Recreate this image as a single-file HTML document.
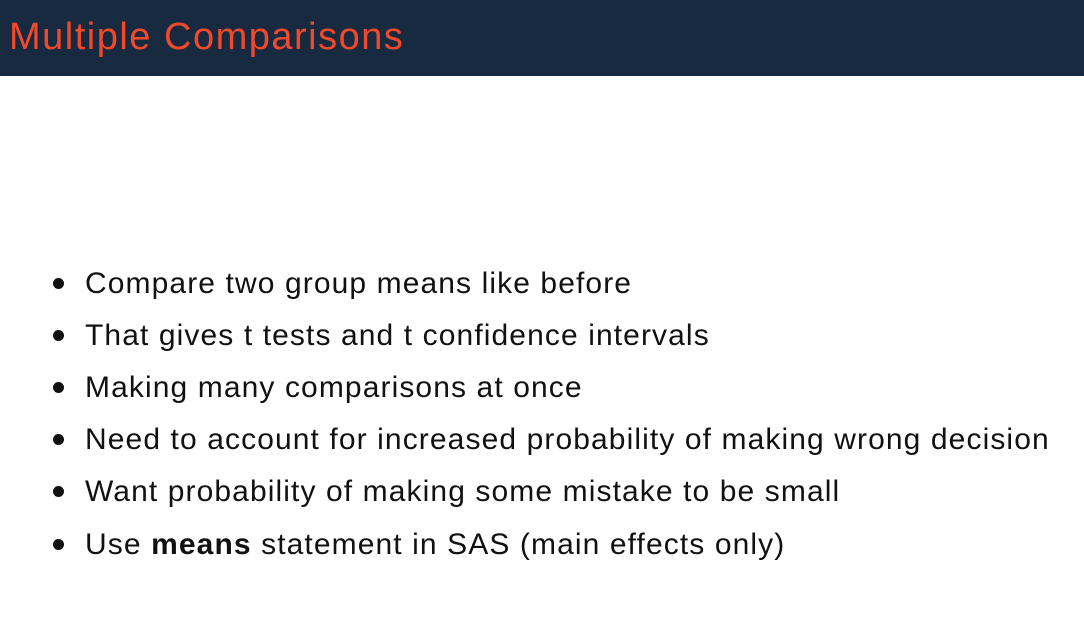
<!DOCTYPE html>
<html>
<head>
<meta charset="utf-8">
<style>
  html,body{margin:0;padding:0;}
  body{width:1084px;height:642px;background:#ffffff;position:relative;overflow:hidden;font-family:"Liberation Sans","DejaVu Sans",sans-serif;}
  .header{position:absolute;left:0;top:0;width:1084px;height:76px;background:#172a3f;}
  .title{position:absolute;left:9px;top:14px;font-size:38px;color:#f0492b;line-height:46px;white-space:nowrap;letter-spacing:1.5px;}
  .item{position:absolute;left:85px;font-size:30px;color:#111;line-height:36px;white-space:nowrap;letter-spacing:1.1px;}
  .dot{position:absolute;left:53px;width:11px;height:11px;border-radius:50%;background:#111;}
</style>
</head>
<body>
<div class="header">
  <div class="title">Multiple Comparisons</div>
</div>
<div>
  <div class="dot" style="top:278px"></div>
  <div class="item" style="top:266px">Compare two group means like before</div>
  <div class="dot" style="top:330px"></div>
  <div class="item" style="top:318px">That gives t tests and t confidence intervals</div>
  <div class="dot" style="top:382px"></div>
  <div class="item" style="top:370px">Making many comparisons at once</div>
  <div class="dot" style="top:434px"></div>
  <div class="item" style="top:422px">Need to account for increased probability of making wrong decision</div>
  <div class="dot" style="top:486px"></div>
  <div class="item" style="top:474px">Want probability of making some mistake to be small</div>
  <div class="dot" style="top:539px"></div>
  <div class="item" style="top:527px">Use <b>means</b> statement in SAS (main effects only)</div>
</div>
</body>
</html>
